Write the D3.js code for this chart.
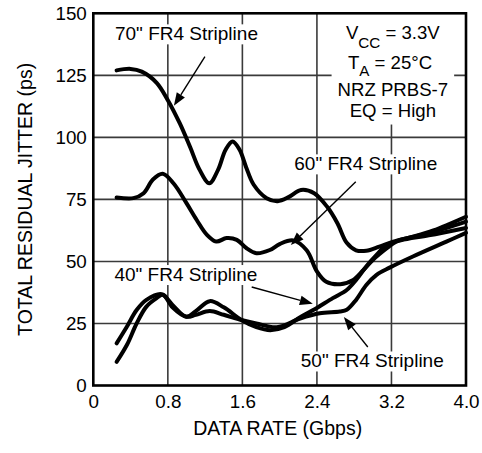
<!DOCTYPE html>
<html>
<head>
<meta charset="utf-8">
<script src="https://cdn.jsdelivr.net/npm/d3@7"></script>
<style>
  html, body { margin: 0; padding: 0; background: #fff; }
  svg { display: block; font-family: "Liberation Sans", Arial, Helvetica, sans-serif; }
</style>
</head>
<body>
<svg id="chart" width="482" height="453"></svg>
<script>
// ---------------- DATA ----------------
const xTicks = [0, 0.8, 1.6, 2.4, 3.2, 4.0];
const xTickLabels = ["0", "0.8", "1.6", "2.4", "3.2", "4.0"];
const yTicks = [0, 25, 50, 75, 100, 125, 150];
const yTickLabels = ["0", "25", "50", "75", "100", "125", "150"];

const xTitle = "DATA RATE (Gbps)";
const yTitle = "TOTAL RESIDUAL JITTER (ps)";

// Data rate (Gbps) for each series
const rate70 = [0.25, 0.40, 0.52, 0.68, 0.80, 0.93, 1.04, 1.14, 1.245, 1.34, 1.42, 1.495, 1.57, 1.64, 1.72, 1.86, 1.98, 2.10, 2.23, 2.37, 2.51, 2.62, 2.72, 2.82, 2.93, 3.07, 3.22, 3.43, 3.65, 4.0];
const jitter70 = [127, 127.6, 126.5, 122, 115, 105.5, 96, 87, 81.5, 87, 95, 98.3, 95, 88, 81, 75.5, 74.3, 76, 78.8, 77.5, 72, 65.4, 57.5, 54.5, 54.3, 56, 58, 60, 62.5, 68];

const rate60 = [0.25, 0.43, 0.54, 0.64, 0.745, 0.86, 1.0, 1.11, 1.22, 1.32, 1.43, 1.54, 1.645, 1.75, 1.895, 2.0, 2.145, 2.29, 2.40, 2.50, 2.65, 2.79, 2.90, 3.0, 3.15, 3.25, 3.5, 3.75, 4.0];
const jitter60 = [75.8, 75.5, 77.5, 83, 85.3, 81.5, 73.5, 66.7, 60.7, 58, 59.4, 58.7, 55.3, 53.3, 54.6, 57, 58.5, 54.5, 46, 41.8, 40.8, 42.5, 46.6, 50.6, 55.3, 58, 60.5, 63, 66];

const rate40 = [0.25, 0.36, 0.465, 0.57, 0.733, 0.85, 1.0, 1.1, 1.25, 1.4, 1.59, 1.75, 1.9, 2.05, 2.22, 2.36, 2.57, 2.72, 2.82, 2.93, 3.04, 3.15, 3.3, 3.6, 4.0];
const jitter40 = [17, 23.7, 30.4, 34.5, 36.8, 32.5, 27.7, 30, 34, 31.5, 26.4, 23.5, 22.3, 23.5, 27.5, 30.4, 35.2, 38.5, 42.5, 48, 52.6, 56.7, 58.5, 60.5, 63.5];

const rate50 = [0.25, 0.36, 0.465, 0.57, 0.68, 0.75, 0.85, 1.0, 1.1, 1.25, 1.4, 1.59, 1.75, 1.97, 2.22, 2.43, 2.645, 2.72, 2.82, 2.93, 3.04, 3.18, 3.43, 3.79, 4.0];
const jitter50 = [9.5, 16.3, 25, 31.8, 35.2, 36.6, 31.5, 27.7, 28.5, 30, 28.5, 26.4, 25, 23.5, 27, 29.1, 29.8, 30.5, 34.5, 40.5, 44.6, 47.5, 52, 58, 61.5];

const seriesNames = ['70" FR4 Stripline', '60" FR4 Stripline', '40" FR4 Stripline', '50" FR4 Stripline'];
const seriesRates = [rate70, rate60, rate40, rate50];
const seriesJitter = [jitter70, jitter60, jitter40, jitter50];

// Conditions text block
const conditionLines = [
  [{t: "V"}, {t: "CC", sub: true}, {t: " = 3.3V"}],
  [{t: "T"}, {t: "A", sub: true}, {t: " = 25°C"}],
  [{t: "NRZ PRBS-7"}],
  [{t: "EQ = High"}]
];

// ---------------- LAYOUT ----------------
const svg = d3.select("#chart");
const plot = {left: 93.3, right: 466, top: 13.3, bottom: 385.5};
const x = d3.scaleLinear().domain([0, 4]).range([plot.left, plot.right]);
const y = d3.scaleLinear().domain([0, 150]).range([plot.bottom, plot.top]);

// label annotations in data units: label anchor (centre, baseline) and arrow from/to
const labelPos = [
  {lx: 1.0, ly: 139.1, from: [1.198, 132.5], to: [0.865, 112.7]},
  {lx: 2.924, ly: 86.7, from: [2.817, 82.1], to: [2.12, 56.6]},
  {lx: 0.994, ly: 42.1, from: [1.70, 39.7], to: [2.356, 32.9]},
  {lx: 2.994, ly: 7.26, from: [2.946, 15.5], to: [2.689, 27.6]}
];
const condX = [3.215, 3.185, 3.215, 3.215];
const condY = [139.7, 127.6, 116.5, 108.4];
const subShift = [9, 7.5];

const tickFont = 18.8, labelFont = 19, titleFont = 19.5, condFont = 18.6;

// ---------------- GRID ----------------
const grid = svg.append("g").attr("stroke", "#3a3a3a").attr("stroke-width", 1.6);
grid.selectAll("line.h").data(yTicks.filter(v => v > 0 && v < 150)).join("line")
  .attr("x1", plot.left).attr("x2", plot.right)
  .attr("y1", d => y(d)).attr("y2", d => y(d));
grid.selectAll("line.v").data(xTicks.filter(v => v > 0 && v < 4)).join("line")
  .attr("y1", plot.top).attr("y2", plot.bottom)
  .attr("x1", d => x(d)).attr("x2", d => x(d));

// layers
const bgLayer = svg.append("g");
const curveLayer = svg.append("g");
const arrowLayer = svg.append("g");
const textLayer = svg.append("g");

// ---------------- CURVES ----------------
const line = d3.line().x(d => x(d[0])).y(d => y(d[1])).curve(d3.curveCatmullRom.alpha(0.5));
seriesRates.forEach((rates, i) => {
  const pts = rates.map((r, k) => [r, seriesJitter[i][k]]);
  curveLayer.append("path")
    .attr("d", line(pts))
    .attr("fill", "none")
    .attr("stroke", "#000")
    .attr("stroke-width", 4)
    .attr("stroke-linecap", "round")
    .attr("stroke-linejoin", "round");
});

// ---------------- LABELS + ARROWS ----------------
seriesNames.forEach((name, i) => {
  const p = labelPos[i];
  const t = textLayer.append("text")
    .attr("x", x(p.lx)).attr("y", y(p.ly))
    .attr("text-anchor", "middle")
    .attr("font-size", labelFont)
    .attr("fill", "#000")
    .text(name);
  const bb = t.node().getBBox();
  bgLayer.append("rect")
    .attr("x", bb.x - 2).attr("y", bb.y + 1)
    .attr("width", bb.width + 4).attr("height", bb.height - 1)
    .attr("fill", "#fff");
  const x1 = x(p.from[0]), y1 = y(p.from[1]), x2 = x(p.to[0]), y2 = y(p.to[1]);
  const ang = Math.atan2(y2 - y1, x2 - x1);
  const L = 13, W = 4.8;
  const bx = x2 - L * Math.cos(ang), by = y2 - L * Math.sin(ang);
  arrowLayer.append("line")
    .attr("x1", x1).attr("y1", y1).attr("x2", bx).attr("y2", by)
    .attr("stroke", "#000").attr("stroke-width", 1.4);
  arrowLayer.append("path")
    .attr("d", `M${x2},${y2}L${bx + W * Math.sin(ang)},${by - W * Math.cos(ang)}L${bx - W * Math.sin(ang)},${by + W * Math.cos(ang)}Z`)
    .attr("fill", "#000");
});

// ---------------- CONDITIONS BLOCK ----------------
const condG = textLayer.append("g");
conditionLines.forEach((parts, i) => {
  const t = condG.append("text")
    .attr("x", x(condX[i])).attr("y", y(condY[i]))
    .attr("text-anchor", "middle")
    .attr("font-size", condFont)
    .attr("fill", "#000");
  let shifted = false;
  parts.forEach(p => {
    const ts = t.append("tspan").text(p.t);
    if (p.sub) { ts.attr("dy", subShift[i]).attr("font-size", condFont - 3.4); shifted = true; }
    else if (shifted) { ts.attr("dy", -subShift[i]); shifted = false; }
  });
});
const cb = condG.node().getBBox();
bgLayer.append("rect")
  .attr("x", cb.x - 6).attr("y", plot.top)
  .attr("width", cb.width + 12).attr("height", cb.y + cb.height + 4 - plot.top)
  .attr("fill", "#fff");

// ---------------- AXES ----------------
const xAxis = d3.axisBottom(x).tickValues(xTicks).tickSize(0).tickPadding(9)
  .tickFormat((d, i) => xTickLabels[i]);
const gx = svg.append("g").attr("transform", `translate(0,${plot.bottom})`).call(xAxis);
gx.select(".domain").remove();
gx.selectAll("text").attr("font-size", tickFont).attr("font-family", null).attr("fill", "#000");

const yAxis = d3.axisLeft(y).tickValues(yTicks).tickSize(0).tickPadding(6.5)
  .tickFormat((d, i) => yTickLabels[i]);
const gy = svg.append("g").attr("transform", `translate(${plot.left},0)`).call(yAxis);
gy.select(".domain").remove();
gy.selectAll("text").attr("font-size", tickFont).attr("font-family", null).attr("fill", "#000");

// border
svg.append("rect")
  .attr("x", plot.left).attr("y", plot.top)
  .attr("width", plot.right - plot.left).attr("height", plot.bottom - plot.top)
  .attr("fill", "none").attr("stroke", "#000").attr("stroke-width", 2.6);

// titles
svg.append("text")
  .attr("x", (plot.left + plot.right) / 2 - 2).attr("y", 435)
  .attr("text-anchor", "middle").attr("font-size", titleFont).attr("fill", "#000")
  .text(xTitle);
svg.append("text")
  .attr("transform", `translate(32,${(plot.top + plot.bottom) / 2}) rotate(-90)`)
  .attr("text-anchor", "middle").attr("font-size", titleFont).attr("fill", "#000")
  .text(yTitle);
</script>
</body>
</html>
